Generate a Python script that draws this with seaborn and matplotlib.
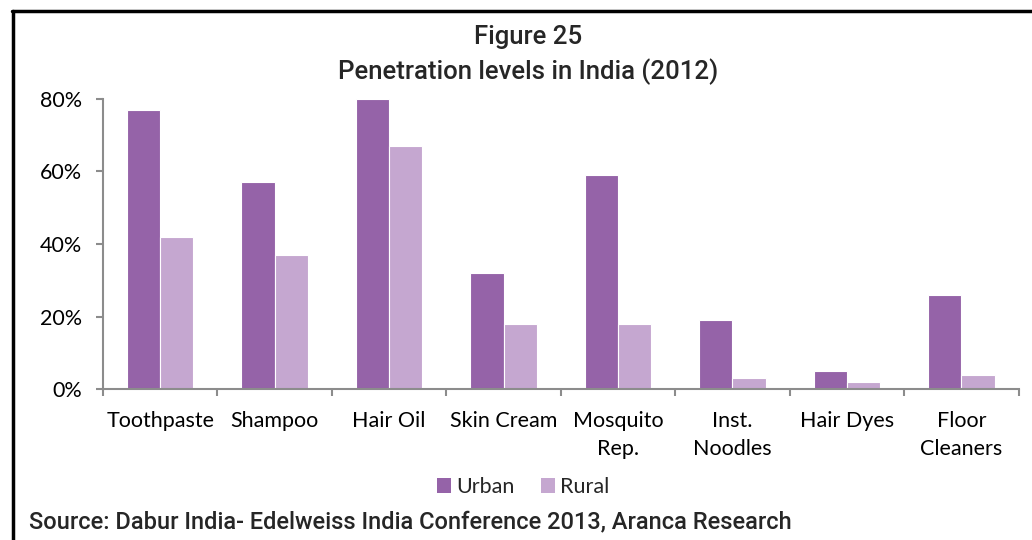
import matplotlib
matplotlib.use("Agg")
import matplotlib.pyplot as plt
from matplotlib.patches import Patch
from matplotlib.lines import Line2D
import seaborn as sns
import pandas as pd

categories = ["Toothpaste", "Shampoo", "Hair Oil", "Skin Cream", "Mosquito\nRep.",
              "Inst.\nNoodles", "Hair Dyes", "Floor\nCleaners"]
urban = [77, 57, 80, 32, 59, 19, 5, 26]
rural = [42, 37, 67, 18, 18, 3, 2, 4]
series = ["Urban", "Rural"]
y_ticks = [0, 20, 40, 60, 80]
colors = {"Urban": "#9563a8", "Rural": "#c5a7d0"}

df = pd.DataFrame({
    "category": categories * 2,
    "value": urban + rural,
    "series": ["Urban"] * len(categories) + ["Rural"] * len(categories),
})

sns.set_style("white")
plt.rcParams["font.family"] = ["Lato", "DejaVu Sans"]

fig = plt.figure(figsize=(10.32, 5.4), dpi=100)
ax = fig.add_axes([0.0998, 0.2796, 0.8872, 0.5371])

sns.barplot(data=df, x="category", y="value", hue="series", hue_order=series,
            order=categories, palette=colors, saturation=1, width=0.58, gap=0,
            edgecolor="white", linewidth=0.8, legend=False, ax=ax)

ax.set_xlim(-0.5, len(categories) - 0.5)
ax.set_ylim(0, 80)
ax.set_yticks(y_ticks)
ax.set_yticklabels([f"{v}%" for v in y_ticks])
ax.set_xlabel("")
ax.set_ylabel("")

# category separators as tick marks on the x axis
ax.set_xticks([i - 0.5 for i in range(len(categories) + 1)], minor=True)
ax.tick_params(axis="x", which="both", bottom=True)
ax.tick_params(axis="y", which="both", left=True)
ax.tick_params(axis="x", which="major", length=0, pad=16, labelsize=15.5, colors="black")
ax.tick_params(axis="x", which="minor", length=5, width=1.5, color="#8c8c8c", direction="out")
ax.tick_params(axis="y", which="major", length=5, width=1.5, color="#8c8c8c",
               direction="out", pad=10, labelsize=15.5, labelcolor="black")
for lbl in ax.get_xticklabels():
    lbl.set_horizontalalignment("center")
    lbl.set_linespacing(1.5)

for side in ("top", "right"):
    ax.spines[side].set_visible(False)
for side in ("left", "bottom"):
    ax.spines[side].set_color("#8c8c8c")
    ax.spines[side].set_linewidth(1.5)

# legend
handles = [Patch(facecolor=colors[s], edgecolor="none") for s in series]
fig.legend(handles, series, loc="center", bbox_to_anchor=(0.507, 0.098), ncol=2,
           frameon=False, fontsize=15.5, handlelength=0.65, handleheight=0.65,
           handletextpad=0.25, columnspacing=1.2)

# titles and source
title_font = ["Roboto", "DejaVu Sans"]
fig.text(0.512, 0.932, "Figure 25", ha="center", va="center", fontsize=18.5,
         family=title_font, fontweight="medium")
fig.text(0.512, 0.867, "Penetration levels in India (2012)", ha="center", va="center",
         fontsize=18.5, family=title_font, fontweight="medium")
fig.text(0.028, 0.033, "Source: Dabur India- Edelweiss India Conference 2013, Aranca Research",
         ha="left", va="center", fontsize=17, family=title_font, fontweight="medium")

# frame lines along the top and left edges
fig.add_artist(Line2D([0.0115, 1.0], [0.98, 0.98], transform=fig.transFigure,
                      color="black", linewidth=2.5))
fig.add_artist(Line2D([0.0125, 0.0125], [0.0, 0.98], transform=fig.transFigure,
                      color="black", linewidth=2.5))

fig.savefig("out.png", dpi=100)
